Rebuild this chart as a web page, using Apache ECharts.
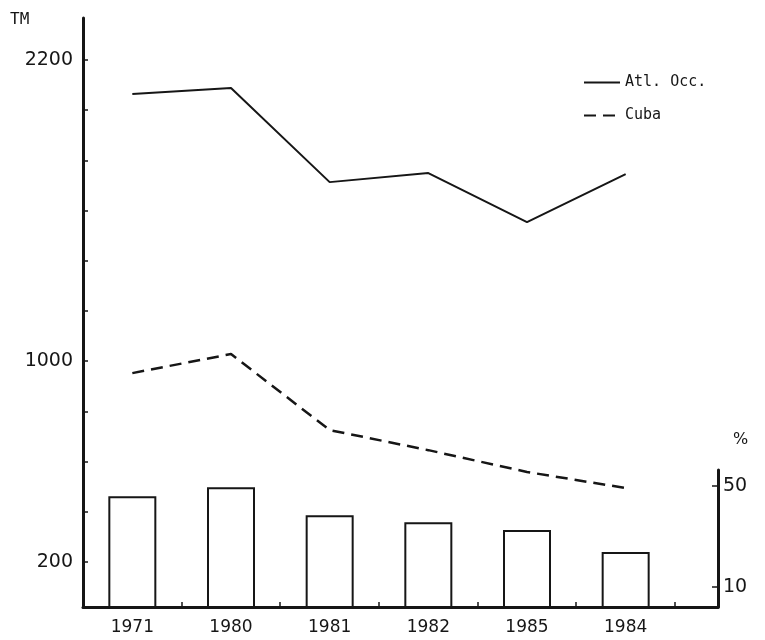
<!DOCTYPE html>
<html>
<head>
<meta charset="utf-8">
<script src="https://cdn.jsdelivr.net/npm/echarts@6/dist/echarts.min.js"></script>
<style>
html, body { margin: 0; background: #fff; }
#chart-panel { width: 765px; height: 640px; }
</style>
</head>
<body>
<div id="chart-panel"></div>
<script>
// data
var years = ['1971', '1980', '1981', '1982', '1985', '1984'];
var atlOcc = [2064, 2088, 1713, 1749, 1554, 1745];   // TM
var cuba = [952, 1028, 725, 645, 558, 494];          // TM
var pct = [45.9, 49.5, 38.4, 35.6, 32.5, 23.8];      // %
var tmTicks = [200, 400, 600, 800, 1000, 1200, 1400, 1600, 1800, 2000, 2200];
var tmLabels = [200, 1000, 2200];
var pctLabels = [10, 50];

(function () {
    var myChart = echarts.init(document.querySelector('#chart-panel'));
    var ink = '#161616';
    var font = 'DejaVu Sans';
    var mono = 'DejaVu Sans Mono';

    var option = {
        backgroundColor: '#fff',
        animation: false,
        textStyle: { fontFamily: font, color: ink },
        legend: {
            orient: 'vertical',
            left: 583,
            top: 75,
            padding: 0,
            itemWidth: 36,
            itemHeight: 14,
            itemGap: 18,
            itemStyle: { opacity: 0 },
            textStyle: { fontFamily: mono, fontSize: 15, color: ink },
            data: ['Atl. Occ.', 'Cuba']
        },
        graphic: [
            { type: 'text', left: 10, top: 12, style: { text: 'TM', fontFamily: mono, fontSize: 16, fill: ink } },
            { type: 'text', left: 733, top: 432, style: { text: '%', fontFamily: font, fontSize: 16, fill: ink } }
        ],
        grid: [
            { left: 83, right: 90, top: 18, bottom: 33 },   // lines + year labels
            { left: 83, right: 90, top: 470, bottom: 33 },  // bars
            { left: 83, right: 47, top: 18, bottom: 33 }    // frame (bottom axis)
        ],
        xAxis: [
            {
                type: 'category', gridIndex: 0, data: years, boundaryGap: true,
                axisLine: { show: false }, axisTick: { show: false },
                axisLabel: { fontFamily: font, fontSize: 17, color: ink, margin: 12 }
            },
            {
                type: 'category', gridIndex: 1, data: years, boundaryGap: true,
                axisLine: { show: false }, axisTick: { show: false }, axisLabel: { show: false }
            },
            {
                type: 'value', gridIndex: 2, min: 0, max: 12.88, interval: 1,
                axisLine: { show: true, lineStyle: { color: ink, width: 3 } },
                axisTick: { show: true, inside: true, length: 5, lineStyle: { color: ink, width: 1.5 } },
                axisLabel: { show: false }, splitLine: { show: false }
            }
        ],
        yAxis: [
            {
                type: 'value', gridIndex: 0, min: 20, max: 2367,
                axisLine: { show: true, lineStyle: { color: ink, width: 3 } },
                axisTick: { show: true, inside: true, length: 5, customValues: tmTicks, lineStyle: { color: ink, width: 1.5 } },
                axisLabel: {
                    customValues: tmLabels, fontFamily: font, fontSize: 19, color: ink, margin: 10,
                    formatter: function (v) { return String(v); }
                },
                splitLine: { show: false }
            },
            {
                type: 'value', gridIndex: 1, position: 'right', offset: 43, min: 2, max: 56.3,
                axisLine: { show: true, lineStyle: { color: ink, width: 3 } },
                axisTick: { show: true, inside: true, length: 6, customValues: pctLabels, lineStyle: { color: ink, width: 1.5 } },
                axisLabel: {
                    customValues: pctLabels, fontFamily: font, fontSize: 19, color: ink, margin: 5,
                    formatter: function (v) { return String(v); }
                },
                splitLine: { show: false }
            },
            {
                type: 'value', gridIndex: 2, show: false
            }
        ],
        series: [
            {
                name: '%',
                type: 'bar',
                xAxisIndex: 1, yAxisIndex: 1,
                data: pct,
                barWidth: 48,
                clip: true,
                itemStyle: { color: '#fff', borderColor: ink, borderWidth: 2 }
            },
            {
                name: 'Atl. Occ.',
                type: 'line',
                xAxisIndex: 0, yAxisIndex: 0,
                data: atlOcc,
                symbol: 'none',
                lineStyle: { color: ink, width: 2 },
                itemStyle: { color: ink }
            },
            {
                name: 'Cuba',
                type: 'line',
                xAxisIndex: 0, yAxisIndex: 0,
                data: cuba,
                symbol: 'none',
                lineStyle: { color: ink, width: 2.5, type: [12, 7] },
                itemStyle: { color: ink }
            }
        ]
    };

    myChart.setOption(option);
})();
</script>
</body>
</html>
